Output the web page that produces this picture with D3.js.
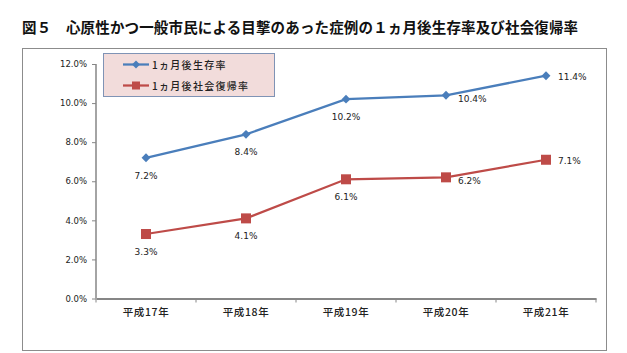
<!DOCTYPE html>
<html>
<head>
<meta charset="utf-8">
<script src="https://cdn.jsdelivr.net/npm/d3@7"></script>
<style>
  body { margin: 0; background: #fff; }
  text { font-family: "DejaVu Sans", Verdana, sans-serif; }
  .jp { font-family: "Noto Sans CJK JP", sans-serif; }
</style>
</head>
<body>
<svg id="chart" width="627" height="353"></svg>
<script>
// data
const years = ["平成17年", "平成18年", "平成19年", "平成20年", "平成21年"];
const survival = [7.2, 8.4, 10.2, 10.4, 11.4];   // 1ヵ月後生存率
const returnSoc = [3.3, 4.1, 6.1, 6.2, 7.1];     // 1ヵ月後社会復帰率
const yTicks = [0, 2, 4, 6, 8, 10, 12];
const seriesNames = ["1ヵ月後生存率", "1ヵ月後社会復帰率"];

const svg = d3.select("#chart");

// title
svg.append("text")
  .attr("class", "jp")
  .attr("x", 22).attr("y", 33)
  .attr("font-size", 14.5).attr("font-weight", "bold")
  .attr("letter-spacing", 0.15)
  .attr("fill", "#111")
  .text("図５　心原性かつ一般市民による目撃のあった症例の１ヵ月後生存率及び社会復帰率");

// outer frame
svg.append("rect")
  .attr("x", 22.5).attr("y", 48.5)
  .attr("width", 584).attr("height", 302)
  .attr("fill", "none").attr("stroke", "#8c8c8c");

// scales
const x = d3.scaleBand().domain(years).range([96, 596]);
const y = d3.scaleLinear().domain([0, 12]).range([298.5, 64]);

// y axis
const yAxis = svg.append("g")
  .attr("transform", "translate(96,0)")
  .call(d3.axisLeft(y).tickValues(yTicks).tickSize(4).tickPadding(5)
    .tickFormat(d => d.toFixed(1) + "%"));
yAxis.selectAll("text").attr("font-size", 8.5).attr("fill", "#222");
yAxis.selectAll("line").attr("stroke", "#868686");
yAxis.select(".domain").attr("stroke", "#868686").attr("stroke-width", 1.5)
  .attr("d", `M0,${y(0)}V${y(12)}`);

// x axis
const xAxis = svg.append("g")
  .attr("transform", `translate(0,${y(0)})`)
  .call(d3.axisBottom(x).tickSize(0).tickPadding(10));
xAxis.select(".domain").attr("stroke", "#868686").attr("stroke-width", 2);
xAxis.selectAll("text").attr("class", "jp").attr("font-size", 10.5)
  .attr("font-weight", 500).attr("letter-spacing", 0.6).attr("fill", "#222");
// boundary ticks
xAxis.selectAll("line.bt")
  .data(years.map(d => x(d)).concat([x.range()[1]]))
  .join("line").attr("class", "bt")
  .attr("x1", d => d).attr("x2", d => d)
  .attr("y1", 0).attr("y2", 4)
  .attr("stroke", "#868686");

const line = d3.line()
  .x((d, i) => x(years[i]) + x.bandwidth() / 2)
  .y(d => y(d));

const blue = "#4a7ebb", red = "#be4b48";

// lines
svg.append("path").datum(survival)
  .attr("d", line).attr("fill", "none")
  .attr("stroke", blue).attr("stroke-width", 2.25);
svg.append("path").datum(returnSoc)
  .attr("d", line).attr("fill", "none")
  .attr("stroke", red).attr("stroke-width", 2.25);

const cx = (d, i) => x(years[i]) + x.bandwidth() / 2;

// markers
svg.append("g").selectAll("path")
  .data(survival).join("path")
  .attr("d", d3.symbol(d3.symbolDiamond2, 50))
  .attr("transform", (d, i) => `translate(${cx(d, i)},${y(d)})`)
  .attr("fill", blue);
svg.append("g").selectAll("rect")
  .data(returnSoc).join("rect")
  .attr("x", (d, i) => cx(d, i) - 5).attr("y", d => y(d) - 5)
  .attr("width", 10).attr("height", 10)
  .attr("fill", red);

// data labels: first three below, last two to the right
function labels(data) {
  svg.append("g").selectAll("text")
    .data(data).join("text")
    .attr("x", (d, i) => i < 3 ? cx(d, i) : cx(d, i) + 12)
    .attr("y", (d, i) => i < 3 ? y(d) + 21 : y(d) + (i === 3 ? 7 : 4))
    .attr("text-anchor", (d, i) => i < 3 ? "middle" : "start")
    .attr("font-size", 9).attr("fill", "#222")
    .text(d => d.toFixed(1) + "%");
}
labels(survival);
labels(returnSoc);

// legend
const lg = svg.append("g");
lg.append("rect")
  .attr("x", 103.5).attr("y", 53.5).attr("width", 171).attr("height", 43)
  .attr("fill", "#f2dcdb").attr("stroke", "#7f93b5");
[blue, red].forEach((c, k) => {
  const ly = 64.5 + k * 21;
  lg.append("line").attr("x1", 123).attr("x2", 149)
    .attr("y1", ly).attr("y2", ly).attr("stroke", c).attr("stroke-width", 2.25);
  if (k === 0) {
    lg.append("path").attr("d", d3.symbol(d3.symbolDiamond2, 40))
      .attr("transform", `translate(136,${ly})`).attr("fill", c);
  } else {
    lg.append("rect").attr("x", 132).attr("y", ly - 4)
      .attr("width", 8).attr("height", 8).attr("fill", c);
  }
  lg.append("text").attr("class", "jp")
    .attr("x", 152).attr("y", ly + 4)
    .attr("font-size", 10).attr("font-weight", 500)
    .attr("letter-spacing", 1.3).attr("fill", "#222")
    .text(seriesNames[k]);
});
</script>
</body>
</html>
